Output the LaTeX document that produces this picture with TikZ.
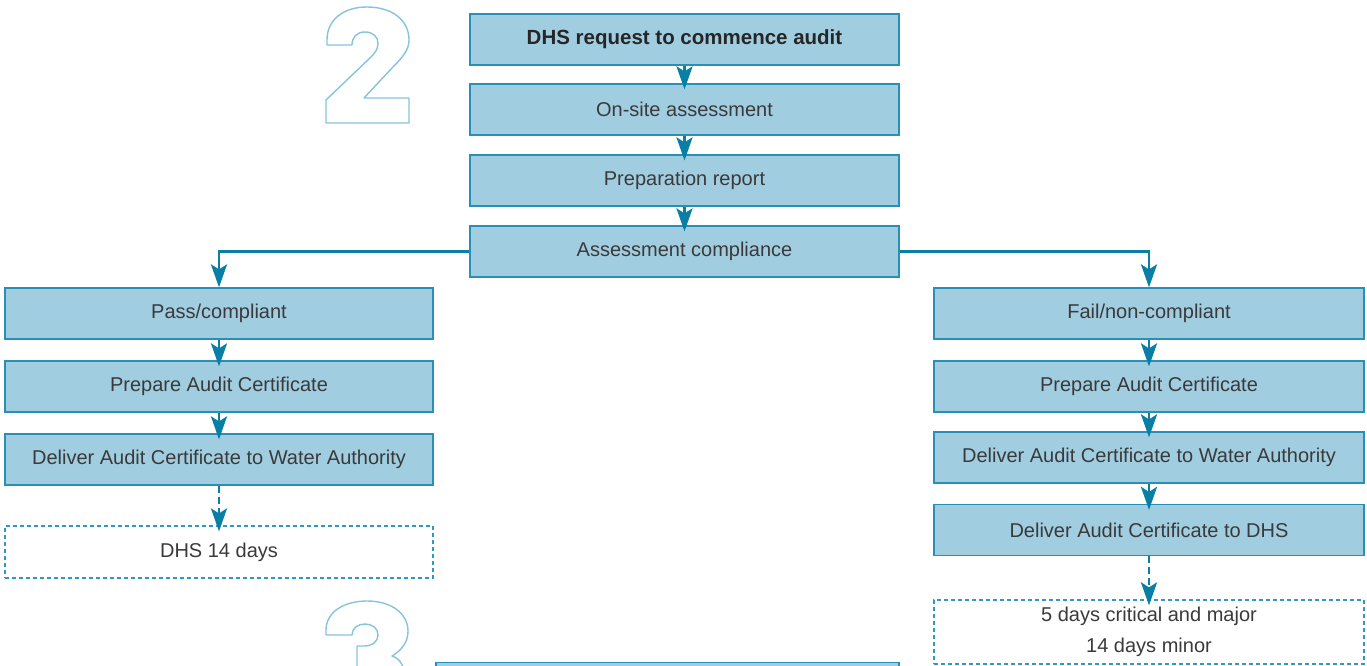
\documentclass[tikz,border=0pt]{standalone}
\usepackage{fontspec}
\setmainfont{Liberation Sans}
\usetikzlibrary{arrows.meta}
\definecolor{boxfill}{HTML}{A1CDE1}
\definecolor{boxline}{HTML}{2A8FB5}
\definecolor{arrowc}{HTML}{0A7FA6}
\definecolor{dashc}{HTML}{3199BF}
\definecolor{digitc}{HTML}{86C3DC}
\definecolor{textc}{HTML}{3A3A3A}
\tikzset{
  stepbox/.style={draw=boxline, fill=boxfill, line width=1.2pt, text=textc,
    minimum width=429pt, minimum height=51pt, inner sep=0pt,
    font=\fontsize{20}{24}\selectfont},
  notebox/.style={draw=dashc, line width=1.2pt, dash pattern=on 4pt off 3pt,
    text=textc, minimum width=429pt, inner sep=0pt, align=center,
    font=\fontsize{20}{31}\selectfont},
  arr/.style={draw=arrowc, line width=2.8pt,
    -{Stealth[length=23pt, width=16pt, inset=5pt]}},
  darr/.style={arr, dash pattern=on 7pt off 4pt},
  digit/.style={draw=digitc, line width=1.4pt, line join=round}
}
\begin{document}
\begin{tikzpicture}[x=1pt, y=-1pt]
\useasboundingbox (0,0) rectangle (1367,666);

% large outlined section numbers
\draw[digit] (326,123) -- (409,123) -- (409,98) -- (364,98) -- (392,68)
  .. controls (403,57) and (409,50) .. (409,40)
  .. controls (409,20) and (392,7) .. (367,7)
  .. controls (343,7) and (327,20) .. (327,40)
  -- (327,45) -- (352,45)
  .. controls (352,37) and (357,32) .. (365,32)
  .. controls (373,32) and (378,37) .. (378,43)
  .. controls (378,49) and (375,53) .. (371,57)
  -- (326,100) -- cycle;
\draw[digit] (357,690) -- (357,646) -- (364,646)
  .. controls (373,646) and (378,641) .. (378,635)
  .. controls (378,628) and (372,624) .. (365,624)
  .. controls (358,624) and (352,628) .. (352,635)
  -- (326,635) -- (326,630)
  .. controls (326,612) and (344,601) .. (367,601)
  .. controls (392,601) and (408,614) .. (408,631)
  .. controls (408,642) and (402,650) .. (392,656)
  .. controls (400,659) and (405,664) .. (408,690);

% main column
\node[stepbox, font=\fontsize{20.5}{24}\selectfont\bfseries, text=black!85] (req) at (684.5,39.5) {DHS request to commence audit};
\node[stepbox] (onsite) at (684.5,109.5) {On-site assessment};
\node[stepbox] (prep) at (684.5,180.5) {Preparation report};
\node[stepbox] (assess) at (684.5,251.5) {Assessment compliance};

% compliant branch
\node[stepbox, minimum width=428pt] (pass) at (219,313.5) {Pass/compliant};
\node[stepbox, minimum width=428pt] (prepL) at (219,386.5) {Prepare Audit Certificate};
\node[stepbox, minimum width=428pt] (delL) at (219,459.5) {Deliver Audit Certificate to Water Authority};
\node[notebox, minimum width=428pt, minimum height=52pt] (daysL) at (219,552) {DHS 14 days};

% non-compliant branch
\node[stepbox, minimum width=430pt] (fail) at (1149,313.5) {Fail/non-compliant};
\node[stepbox, minimum width=430pt] (prepR) at (1149,386.5) {Prepare Audit Certificate};
\node[stepbox, minimum width=430pt] (delR) at (1149,457.5) {Deliver Audit Certificate to Water Authority};
\node[stepbox, minimum width=430pt] (delDHS) at (1149,530) {Deliver Audit Certificate to DHS};
\node[notebox, minimum width=430pt, minimum height=64pt] (daysR) at (1149,632) {5 days critical and major\\14 days minor};

% next stage box
\node[stepbox, minimum width=463pt] (next) at (667.5,688) {};

% connectors
\draw[arr, shorten >=-6pt] (req) -- (onsite);
\draw[arr, shorten >=-6pt] (onsite) -- (prep);
\draw[arr, shorten >=-6pt] (prep) -- (assess);
\draw[arr] (assess.west) -| (pass.north);
\draw[arr] (assess.east) -| (fail.north);
\draw[arr, shorten >=-6pt] (pass) -- (prepL);
\draw[arr, shorten >=-6pt] (prepL) -- (delL);
\draw[darr, shorten >=-6pt] (delL) -- (daysL);
\draw[arr, shorten >=-6pt] (fail) -- (prepR);
\draw[arr, shorten >=-6pt] (prepR) -- (delR);
\draw[arr, shorten >=-6pt] (delR) -- (delDHS);
\draw[darr, shorten >=-6pt] (delDHS) -- (daysR);
\end{tikzpicture}
\end{document}
